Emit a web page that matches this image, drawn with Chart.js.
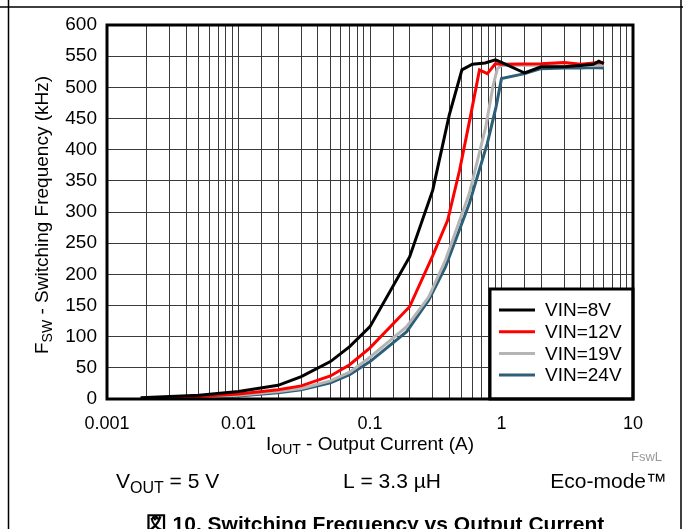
<!DOCTYPE html>
<html>
<head>
<meta charset="utf-8">
<script src="https://cdn.jsdelivr.net/npm/chart.js@4.4.1/dist/chart.umd.min.js"></script>
<style>
  html, body { margin: 0; padding: 0; background: #fff; }
  #wrap { width: 683px; height: 529px; position: relative; }
</style>
</head>
<body>
<div id="wrap"><canvas id="myChart" width="683" height="529"></canvas></div>
<script>
// series data (x = output current in A, y = kHz)
var vin8_x = [0.0018, 0.003, 0.005, 0.01, 0.02, 0.03, 0.05, 0.07, 0.1, 0.2, 0.3, 0.4, 0.5, 0.6, 0.75, 0.9, 1.0, 1.5, 2, 3, 4, 5, 5.5, 6];
var vin8_y = [2, 4, 6, 12, 22, 36, 60, 84, 116, 228, 335, 455, 528, 537, 539, 544, 540, 523, 533, 533, 535, 537, 542, 538];

var vin12_x = [0.0026, 0.005, 0.01, 0.02, 0.03, 0.05, 0.07, 0.1, 0.2, 0.3, 0.39, 0.48, 0.58, 0.68, 0.78, 0.9, 1, 2, 3, 4, 5, 6];
var vin12_y = [2, 4, 8, 15, 21, 37, 55, 82, 148, 230, 287, 367, 453, 528, 522, 538, 537, 538, 540, 537, 539, 540];

var vin19_x = [0.003, 0.005, 0.01, 0.02, 0.03, 0.05, 0.07, 0.1, 0.19, 0.28, 0.375, 0.57, 0.76, 0.86, 0.93, 1, 2, 3, 4, 5, 6];
var vin19_y = [2, 3, 6, 12, 17, 29, 43, 67, 116, 164, 223, 330, 437, 501, 530, 535, 536, 534, 535, 535, 536];

var vin24_x = [0.0032, 0.005, 0.01, 0.02, 0.03, 0.05, 0.07, 0.1, 0.19, 0.28, 0.375, 0.57, 0.78, 0.91, 1.0, 1.5, 2, 3, 4, 5, 6];
var vin24_y = [1, 2, 5, 10, 15, 26, 39, 60, 108, 159, 212, 314, 410, 469, 514, 522, 530, 531, 531, 532, 531];

var series_labels = ['VIN=8V', 'VIN=12V', 'VIN=19V', 'VIN=24V'];
var series_colors = ['#000000', '#ff0000', '#b5b5b5', '#2e5f78'];
var decade_labels = ['0.001', '0.01', '0.1', '1', '10'];

function pts(xs, ys) {
    return xs.map(function (x, i) { return { x: x, y: ys[i] }; });
}

var FONT = "'Liberation Sans', Arial, sans-serif";
var all_x = [vin8_x, vin12_x, vin19_x, vin24_x];
var all_y = [vin8_y, vin12_y, vin19_y, vin24_y];
var mb_datasets = series_labels.map(function (lab, i) {
    return {
        label: lab,
        data: pts(all_x[i], all_y[i]),
        borderColor: series_colors[i],
        borderWidth: 3,
        pointRadius: 0,
        tension: 0,
        fill: false
    };
});

// text with a subscript piece, centred on x
function subText(ctx, parts, x, y, size) {
    var w = 0;
    parts.forEach(function (p) {
        ctx.font = (p.sub ? Math.round(size * 0.75) : size) + 'px ' + FONT;
        w += ctx.measureText(p.t).width;
    });
    var cx = x - w / 2;
    parts.forEach(function (p) {
        ctx.font = (p.sub ? Math.round(size * 0.75) : size) + 'px ' + FONT;
        ctx.fillText(p.t, cx, p.sub ? y + 4 : y);
        cx += ctx.measureText(p.t).width;
    });
}

var extras = {
    id: 'extras',
    afterDatasetsDraw: function (chart) {
        var ctx = chart.ctx, a = chart.chartArea;
        ctx.save();
        // legend box
        var bx = 490, by = 289;
        ctx.fillStyle = '#fff';
        ctx.fillRect(bx, by, a.right - bx, a.bottom - by);
        ctx.lineWidth = 3;
        ctx.strokeStyle = '#000';
        ctx.strokeRect(bx, by, a.right - bx, a.bottom - by);
        chart.data.datasets.forEach(function (ds, i) {
            var yy = 310 + i * 21.7;
            ctx.strokeStyle = ds.borderColor;
            ctx.lineWidth = 3;
            ctx.beginPath();
            ctx.moveTo(499, yy);
            ctx.lineTo(535, yy);
            ctx.stroke();
            ctx.fillStyle = '#000';
            ctx.font = '19px ' + FONT;
            ctx.textBaseline = 'middle';
            ctx.textAlign = 'left';
            ctx.fillText(ds.label, 545, yy + 1);
        });
        // plot border
        ctx.lineWidth = 3;
        ctx.strokeStyle = '#000';
        ctx.strokeRect(a.left, a.top, a.right - a.left, a.bottom - a.top);
        ctx.restore();
    },
    afterDraw: function (chart) {
        var ctx = chart.ctx, a = chart.chartArea;
        ctx.save();
        // outer frame
        ctx.strokeStyle = '#000';
        ctx.lineWidth = 1.5;
        ctx.beginPath();
        ctx.moveTo(0, 7); ctx.lineTo(683, 7);
        ctx.moveTo(8.5, 0); ctx.lineTo(8.5, 529);
        ctx.moveTo(681, 0); ctx.lineTo(681, 529);
        ctx.stroke();

        ctx.fillStyle = '#000';
        ctx.textBaseline = 'alphabetic';
        ctx.textAlign = 'left';
        // x title
        subText(ctx, [{ t: 'I' }, { t: 'OUT', sub: true }, { t: ' - Output Current (A)' }], (a.left + a.right) / 2, 450, 19);
        // y title
        ctx.save();
        ctx.translate(48, (a.top + a.bottom) / 2 + 3);
        ctx.rotate(-Math.PI / 2);
        subText(ctx, [{ t: 'F' }, { t: 'SW', sub: true }, { t: ' - Switching Frequency (kHz)' }], 0, 0, 19);
        ctx.restore();
        // small file tag
        ctx.fillStyle = '#999';
        ctx.font = '13px ' + FONT;
        ctx.textAlign = 'right';
        ctx.fillText('FswL', 662, 461);
        // conditions
        ctx.fillStyle = '#000';
        ctx.textAlign = 'left';
        ctx.font = '21px ' + FONT;
        ctx.fillText('V', 116, 488);
        var w = ctx.measureText('V').width;
        ctx.font = '16px ' + FONT;
        ctx.fillText('OUT', 116 + w, 493);
        var w2 = ctx.measureText('OUT').width;
        ctx.font = '21px ' + FONT;
        ctx.fillText(' = 5 V', 116 + w + w2, 488);
        ctx.fillText('L = 3.3 µH', 343, 488);
        ctx.textAlign = 'right';
        ctx.fillText('Eco-mode™', 667, 488);
        // caption
        ctx.textAlign = 'center';
        ctx.font = 'bold 21px ' + FONT;
        ctx.fillText('図 10. Switching Frequency vs Output Current', 375, 531);
        ctx.restore();
    }
};

new Chart("myChart", {
    type: 'line',
    data: { datasets: mb_datasets },
    plugins: [extras],
    options: {
        responsive: false,
        animation: false,
        layout: { padding: { top: 25, right: 50, bottom: 100, left: 0 } },
        plugins: {
            legend: { display: false },
            tooltip: { enabled: false }
        },
        scales: {
            x: {
                type: 'logarithmic',
                min: 0.001,
                max: 10,
                afterFit: function (s) { s.height = 30; },
                border: { display: false },
                grid: { color: '#3a3a3a', lineWidth: 1, drawTicks: false },
                ticks: {
                    autoSkip: false,
                    maxRotation: 0,
                    padding: 14,
                    color: '#000',
                    font: { family: FONT, size: 18 },
                    callback: function (v) {
                        var e = Math.log10(v);
                        if (Math.abs(e - Math.round(e)) < 1e-6) {
                            return decade_labels[Math.round(e) + 3];
                        }
                        return '';
                    }
                }
            },
            y: {
                min: 0,
                max: 600,
                afterFit: function (s) { s.width = 107; },
                border: { display: false },
                grid: { color: '#3a3a3a', lineWidth: 1, drawTicks: false },
                ticks: {
                    stepSize: 50,
                    padding: 10,
                    color: '#000',
                    font: { family: FONT, size: 19 }
                }
            }
        }
    }
});
</script>
</body>
</html>
